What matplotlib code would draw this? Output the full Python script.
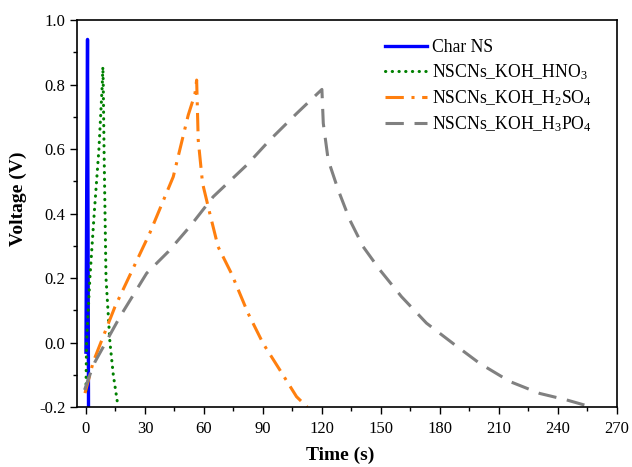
import matplotlib
matplotlib.use('Agg')
import matplotlib.pyplot as plt
from matplotlib.ticker import MultipleLocator

plt.rcParams['font.family'] = 'Liberation Serif'
plt.rcParams['mathtext.fontset'] = 'custom'
plt.rcParams['mathtext.rm'] = 'Liberation Serif'
plt.rcParams['mathtext.it'] = 'Liberation Serif:italic'
plt.rcParams['mathtext.bf'] = 'Liberation Serif:bold'

# charge/discharge curves
char_t = [0.0, 0.4, 0.8, 1.3]
char_v = [-0.03, 0.5, 0.94, -0.2]

hno3_t = [0.0, 0.3, 2.0, 4.2, 6.6, 8.3, 8.6, 8.8, 9.2, 9.7, 10.2, 12.2, 13.9, 16.1]
hno3_v = [-0.15, 0.0, 0.2, 0.4, 0.6, 0.8, 0.855, 0.8, 0.6, 0.4, 0.2, 0.0, -0.1, -0.19]

h2so4_t = [-0.5, 2.0, 3.7, 14.7, 32.5, 44.4, 52.0, 55.4, 56.3, 57.1, 59.3, 63.0, 67.2,
           74.0, 82.5, 90.1, 98.6, 107.1, 112.5]
h2so4_v = [-0.157, -0.1, -0.06, 0.11, 0.34, 0.514, 0.705, 0.77, 0.814, 0.628, 0.494,
           0.40, 0.297, 0.214, 0.09, -0.003, -0.085, -0.168, -0.2]

h3po4_t = [-0.7, 2.0, 4.6, 17.3, 30.9, 41.9, 52.9, 64.7, 81.7, 93.5, 107.1, 120.0,
           120.7, 123.2, 128.3, 134.2, 141.0, 149.5, 160.5, 173.2, 186.7, 200.3,
           215.6, 230.8, 244.4, 257.0]
h3po4_v = [-0.147, -0.1, -0.06, 0.08, 0.215, 0.282, 0.36, 0.452, 0.55, 0.628, 0.71,
           0.785, 0.68, 0.566, 0.473, 0.38, 0.297, 0.225, 0.142, 0.06, -0.003, -0.065,
           -0.121, -0.158, -0.178, -0.2]

fig = plt.figure(figsize=(6.32, 4.67), dpi=100)
ax = fig.add_axes([0.122, 0.1285, 0.854, 0.8285])

ax.plot(char_t, char_v, color='#0000ff', lw=2.4, label='Char NS')
ax.plot(hno3_t, hno3_v, color='#008000', lw=2.2, linestyle=(0, (0.1, 2.1)),
        dash_capstyle='round', label='NSCNs_KOH_HNO$_3$')
ax.plot(h2so4_t, h2so4_v, color='#ff7f0e', lw=2.2, linestyle=(0, (6, 2.5, 1, 2.5)),
        label='NSCNs_KOH_H$_2$SO$_4$')
ax.plot(h3po4_t, h3po4_v, color='#808080', lw=2.2, linestyle=(0, (6, 3.5)),
        label='NSCNs_KOH_H$_3$PO$_4$')

ax.set_xlim(-4.5, 270)
ax.set_ylim(-0.2, 1.0)
ax.xaxis.set_major_locator(MultipleLocator(30))
ax.xaxis.set_minor_locator(MultipleLocator(15))
ax.yaxis.set_major_locator(MultipleLocator(0.2))
ax.yaxis.set_minor_locator(MultipleLocator(0.1))
ax.tick_params(which='both', direction='out', top=False, right=False, labelsize=12)
ax.tick_params(axis='x', which='major', pad=5)
ax.tick_params(which='major', length=5, width=1)
ax.tick_params(which='minor', length=3, width=1)
ax.set_yticks([-0.2, 0.0, 0.2, 0.4, 0.6, 0.8, 1.0])
ax.set_yticklabels(['-0.2', '0.0', '0.2', '0.4', '0.6', '0.8', '1.0'])
for s in ax.spines.values():
    s.set_linewidth(1.2)

ax.set_xlabel('Time (s)', fontsize=14, fontweight='bold')
ax.xaxis.set_label_coords(0.487, -0.103)
ax.set_ylabel('Voltage (V)', fontsize=14, fontweight='bold')
ax.yaxis.set_label_coords(-0.092, 0.537)

ax.legend(loc='upper left', bbox_to_anchor=(0.57, 0.95), frameon=False, fontsize=12.7,
          handlelength=2.4, handletextpad=0.3, labelspacing=0.35,
          borderpad=0, borderaxespad=0)

fig.savefig('out.png', dpi=100)
